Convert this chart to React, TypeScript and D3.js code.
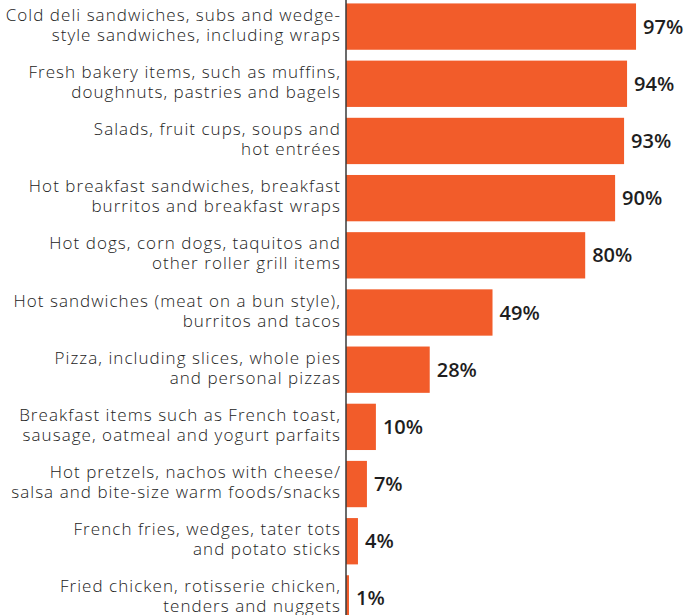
import React from "react";
import * as d3 from "d3";

const categories: string[][] = [
  ["Cold deli sandwiches, subs and wedge-", "style sandwiches, including wraps"],
  ["Fresh bakery items, such as muffins,", "doughnuts, pastries and bagels"],
  ["Salads, fruit cups, soups and", "hot entrées"],
  ["Hot breakfast sandwiches, breakfast", "burritos and breakfast wraps"],
  ["Hot dogs, corn dogs, taquitos and", "other roller grill items"],
  ["Hot sandwiches (meat on a bun style),", "burritos and tacos"],
  ["Pizza, including slices, whole pies", "and personal pizzas"],
  ["Breakfast items such as French toast,", "sausage, oatmeal and yogurt parfaits"],
  ["Hot pretzels, nachos with cheese/", "salsa and bite-size warm foods/snacks"],
  ["French fries, wedges, tater tots", "and potato sticks"],
  ["Fried chicken, rotisserie chicken,", "tenders and nuggets"],
];
const values: number[] = [97, 94, 93, 90, 80, 49, 28, 10, 7, 4, 1];

const W = 688;
const H = 615;
const axisX = 346;

export default function App() {
  const x = d3.scaleLinear().domain([0, 100]).range([axisX, axisX + 299]);
  const y = d3
    .scaleBand<number>()
    .domain(d3.range(values.length))
    .range([0, 625])
    .paddingInner(0.19)
    .paddingOuter(0.06);
  const bh = y.bandwidth();
  return (
    <svg
      width={W}
      height={H}
      style={{ position: "absolute", left: 0, top: 0, background: "#fff" }}
    >
      {values.map((v, i) => {
        const y0 = y(i)!;
        const cy = y0 + bh / 2;
        return (
          <g key={i}>
            <rect x={axisX} y={y0} width={x(v) - axisX} height={bh} fill="#F25C2A" />
            <text
              x={x(v) + 7}
              y={cy + 7}
              fontFamily="'Open Sans', sans-serif"
              fontWeight={600}
              fontSize={20}
              fill="#1e1e1e"
            >
              {v}%
            </text>
            <text
              textAnchor="end"
              fontFamily="'Open Sans', sans-serif"
              fontWeight={300}
              fontSize={17}
              letterSpacing={1.05}
              fill="#222"
            >
              {categories[i].map((line, j) => (
                <tspan key={j} x={341} y={cy - 6 + j * 20}>
                  {line}
                </tspan>
              ))}
            </text>
          </g>
        );
      })}
      <line x1={axisX} x2={axisX} y1={0} y2={H} stroke="#3a3a3a" strokeWidth={1.5} />
    </svg>
  );
}
